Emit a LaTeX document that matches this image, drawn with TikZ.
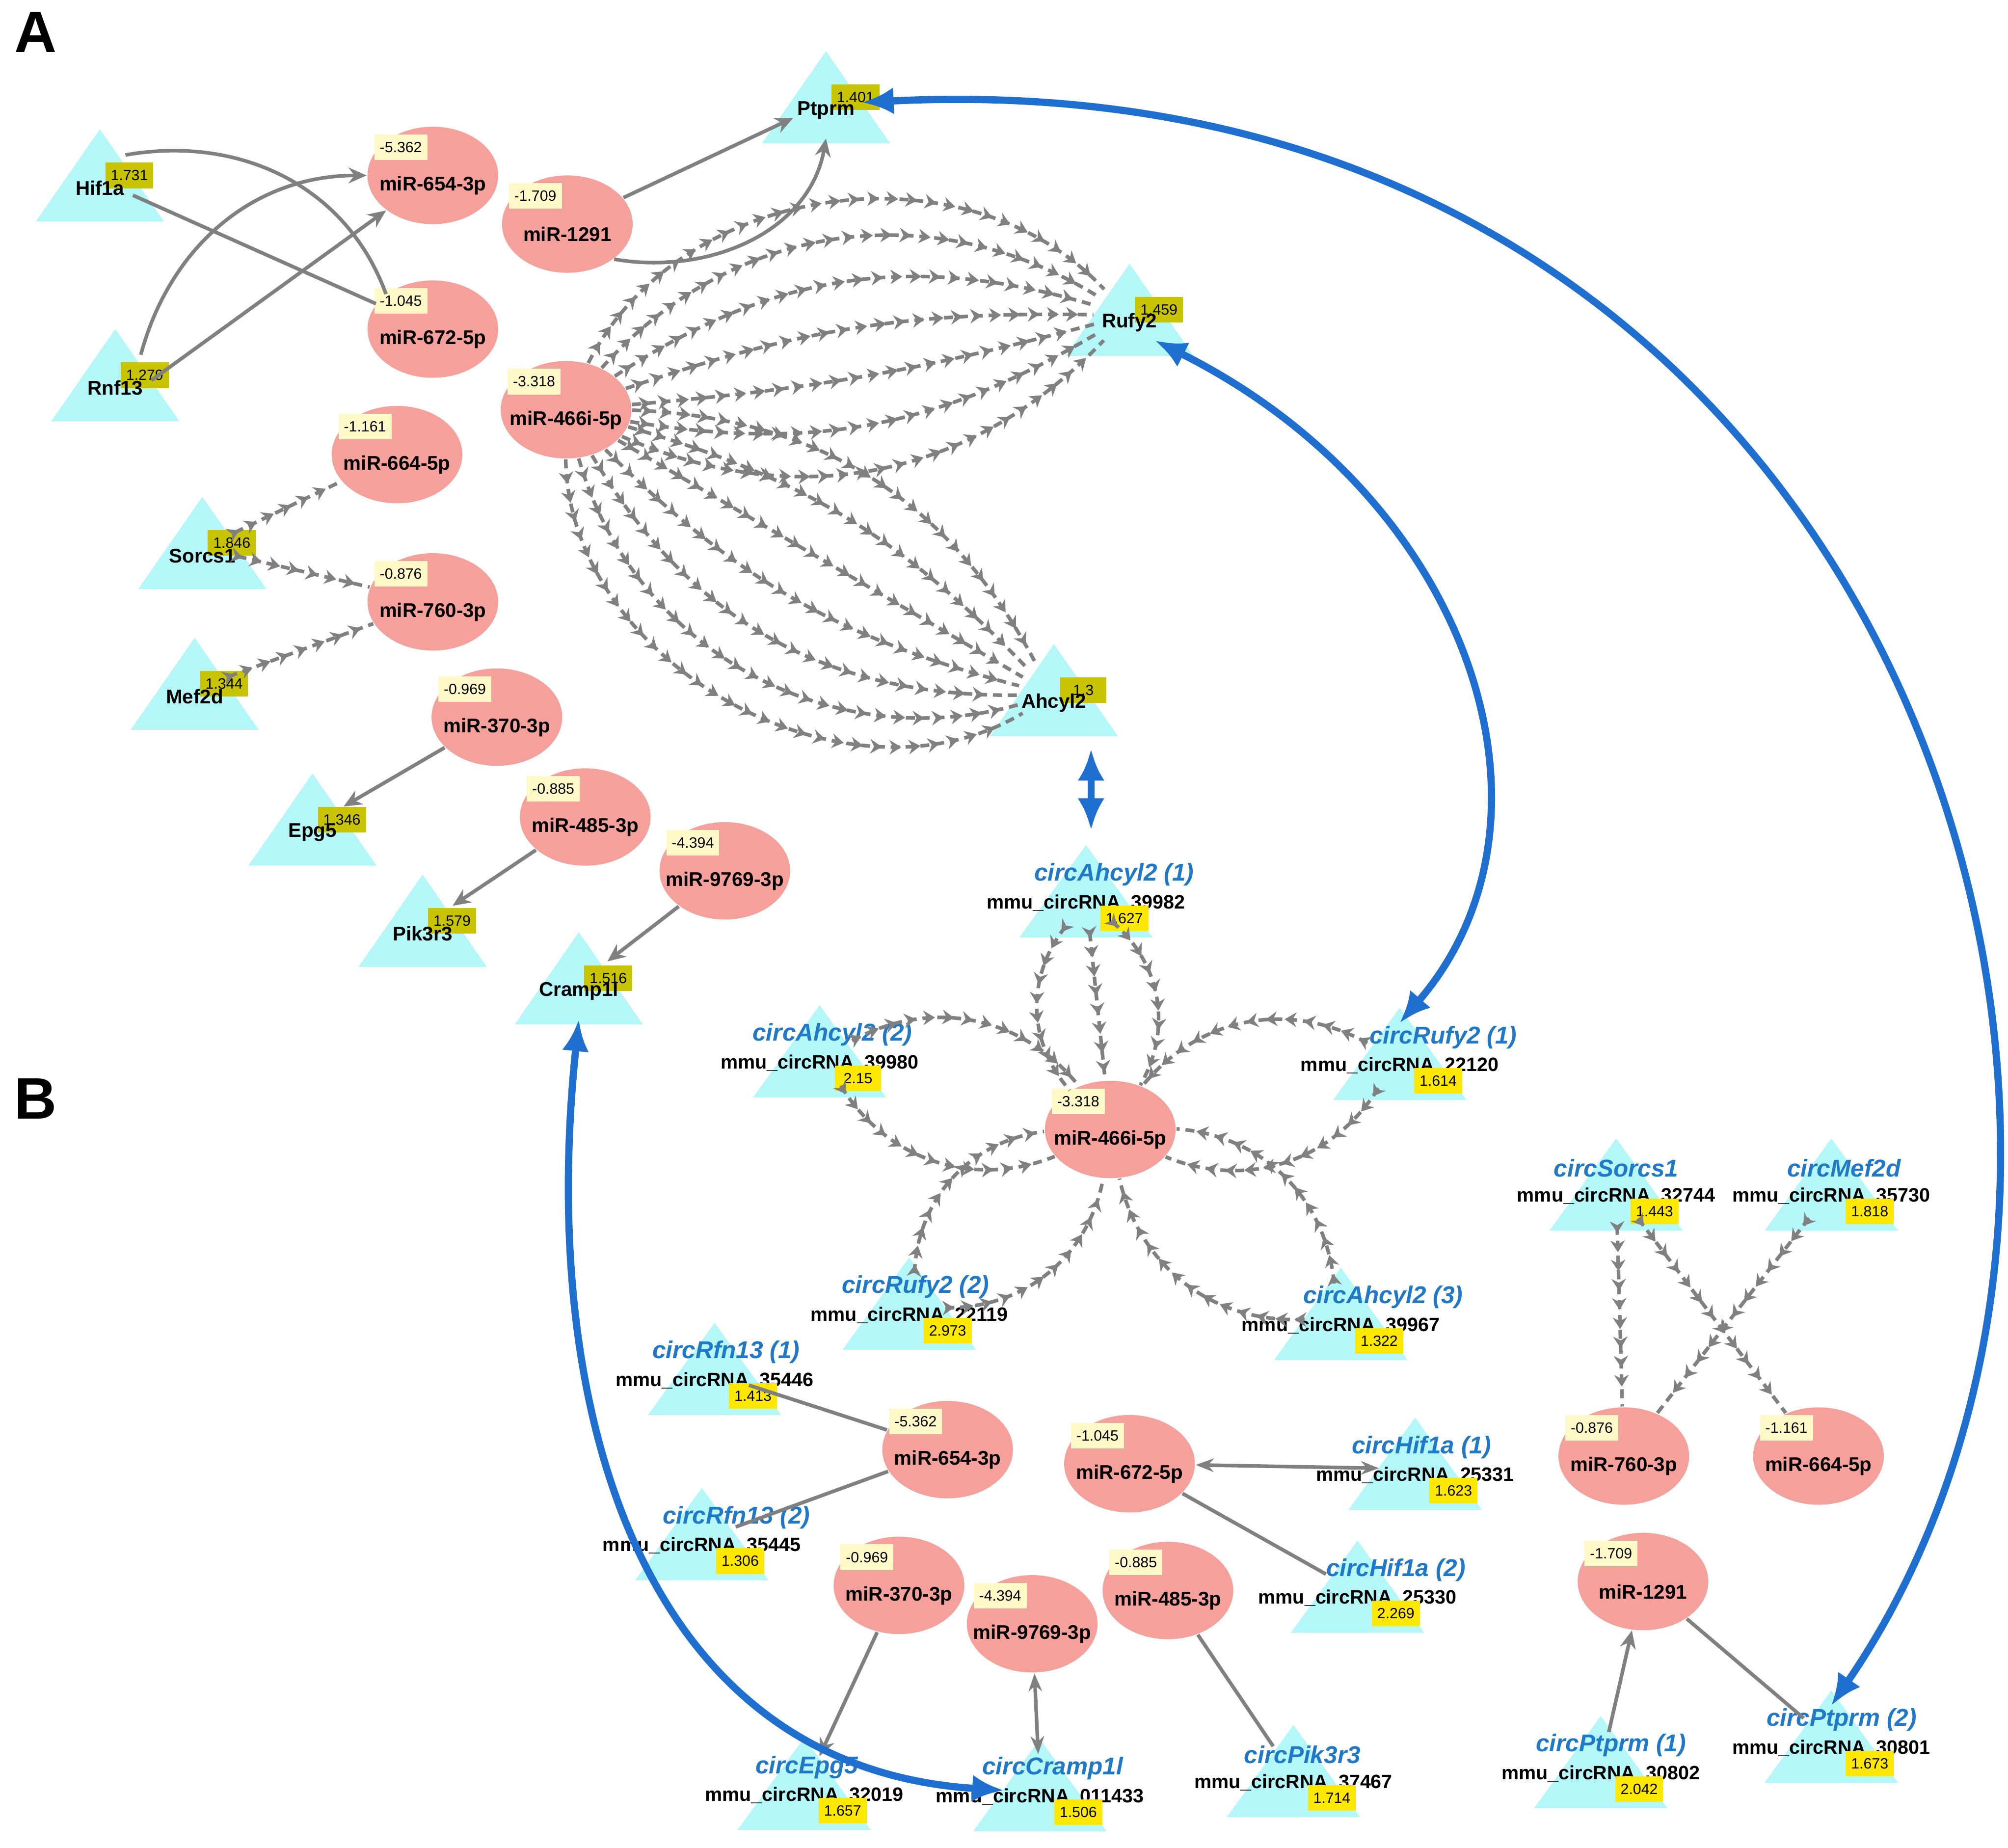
\documentclass[tikz,border=0pt]{standalone}
\usepackage{fontspec}
\setmainfont{Liberation Sans}
\usetikzlibrary{arrows.meta,decorations.markings,shapes.geometric,calc}
\definecolor{tcy}{HTML}{B3F7F9}
\definecolor{sal}{HTML}{F5A09B}
\definecolor{olv}{HTML}{C9C400}
\definecolor{ylw}{HTML}{FFE800}
\definecolor{lbx}{HTML}{FFF9C8}
\definecolor{bl}{HTML}{1E6FD0}
\definecolor{bn}{HTML}{1F78C8}
\tikzset{
 anc/.style={circle,minimum size=0.55cm,inner sep=0},
 ell/.style={ellipse,fill=sal,minimum width=1.02cm,minimum height=0.76cm,inner sep=0},
 nm/.style={font=\fontsize{4.4}{5}\selectfont\bfseries,inner sep=0},
 val/.style={font=\fontsize{3.3}{4}\selectfont,inner sep=1.2pt,minimum width=0.36cm,minimum height=0.2cm},
 cn/.style={font=\fontsize{5.4}{6}\selectfont\bfseries\itshape,text=bn,inner sep=0},
 cid/.style={font=\fontsize{4.3}{5}\selectfont\bfseries,inner sep=0},
 sol/.style={draw=gray,line width=0.8pt,-{Stealth[length=4pt,width=3.5pt]}},
 sl/.style={draw=gray,line width=0.8pt},
 dots/.style={draw=gray,line width=0.8pt,dashed,dash pattern=on 2pt off 1.3pt,postaction={decorate},
   decoration={markings,mark=between positions 0.04 and 0.97 step 0.15cm with {\arrow[gray]{Stealth[length=2.6pt,width=3.2pt]}}}},
 blue/.style={draw=bl,line width=1.6pt,{Latex[length=7pt,width=6pt]}-{Latex[length=7pt,width=6pt]}},
}
\newcommand{\triAn}[5]{%
 \fill[tcy] ({#2-50},{#3+32})--(#2,{#3-40})--({#2+50},{#3+32})--cycle;
 \node[anc] (#1) at (#2,#3) {};
 \node[val,fill=olv] at ({#2+23},{#3-4}) {#4};
 \node[nm] at (#2,{#3+6}) {#5};}
\newcommand{\ellN}[5]{%
 \node[ell] (#1) at (#2,#3) {};
 \node[val,fill=lbx] at ({#2-25},{#3-22}) {#4};
 \node[nm] at (#2,{#3+8}) {#5};}
\newcommand{\ctri}[7]{%
 \fill[tcy] ({#2-52},{#3+27})--(#2,{#3-45})--({#2+52},{#3+27})--cycle;
 \node[anc] (#1) at (#2,{#3-5}) {};
 \node[cn] at (#4,{#3-22}) {#7};
 \node[cid] at (#2,#3) {mmu\_circRNA\_#5};
 \node[val,fill=ylw] at ({#2+30},{#3+12}) {#6};}
\begin{document}
\begin{tikzpicture}[x=0.01cm,y=-0.01cm]
\useasboundingbox (0,0) rectangle (1568,1443);
\fill[white] (0,0) rectangle (1568,1443);
\node[font=\fontsize{13}{14}\selectfont\bfseries] (lA) at (28,25) {A};
\node[font=\fontsize{13}{14}\selectfont\bfseries] (lB) at (28,858) {B};
% ---------- A ----------
\triAn{hif}{78}{141}{1.731}{Hif1a}
\triAn{rnf}{90}{297}{1.279}{Rnf13}
\triAn{ptprm}{645}{80}{1.401}{Ptprm}
\triAn{rufy}{882}{246}{1.459}{Rufy2}
\triAn{sorcs}{158}{428}{1.846}{Sorcs1}
\triAn{mef}{152}{538}{1.344}{Mef2d}
\triAn{epg}{244}{644}{1.346}{Epg5}
\triAn{pik}{330}{723}{1.579}{Pik3r3}
\triAn{cramp}{452}{768}{1.516}{Cramp1l}
\triAn{ahcyl}{823}{543}{1.3}{Ahcyl2}
\ellN{e654}{338}{137}{-5.362}{miR-654-3p}
\ellN{e672}{338}{257}{-1.045}{miR-672-5p}
\ellN{e1291}{443}{175}{-1.709}{miR-1291}
\ellN{e466}{442}{320}{-3.318}{miR-466i-5p}
\ellN{e664}{310}{355}{-1.161}{miR-664-5p}
\ellN{e760}{338}{470}{-0.876}{miR-760-3p}
\ellN{e370}{388}{560}{-0.969}{miR-370-3p}
\ellN{e485}{457}{638}{-0.885}{miR-485-3p}
\ellN{e9769}{566}{680}{-4.394}{miR-9769-3p}
\draw[sl] (hif) -- (e672);
\draw[sl] (hif.north east) to[out=10,in=110] (e672.north west);
\draw[sol] (rnf.north east) to[out=75,in=180] (e654.west);
\draw[sol] (rnf.east) -- (e654.south west);
\draw[sol] (e1291) -- (ptprm);
\draw[sol] (e1291.south east) to[out=-10,in=-100] (ptprm.south);
\foreach \b in {-35,-20,-5,10,25,40,55} \draw[dots] (e466) to[bend left=\b] (rufy);
\foreach \b in {-30,-15,0,15,30,45,60} \draw[dots] (e466) to[bend right=\b] (ahcyl);
\draw[dots] (sorcs) -- (e664);
\draw[dots] (sorcs) -- (e760);
\draw[dots] (mef) -- (e760);
\draw[sol] (e370) -- (epg);
\draw[sol] (e485) -- (pik);
\draw[sol] (e9769) -- (cramp);
% ---------- B ----------
\ctri{cA1}{848}{705}{870}{39982}{1.627}{circAhcyl2 (1)}
\ctri{cA2}{640}{830}{650}{39980}{2.15}{circAhcyl2 (2)}
\ctri{cR1}{1093}{832}{1127}{22120}{1.614}{circRufy2 (1)}
\ctri{cR2}{710}{1027}{715}{22119}{2.973}{circRufy2 (2)}
\ctri{cA3}{1047}{1035}{1080}{39967}{1.322}{circAhcyl2 (3)}
\ctri{cS}{1262}{934}{1262}{32744}{1.443}{circSorcs1}
\ctri{cM}{1430}{934}{1440}{35730}{1.818}{circMef2d}
\ctri{cF1}{558}{1078}{567}{35446}{1.413}{circRfn13 (1)}
\ctri{cF2}{548}{1207}{575}{35445}{1.306}{circRfn13 (2)}
\ctri{cH1}{1105}{1152}{1110}{25331}{1.623}{circHif1a (1)}
\ctri{cH2}{1060}{1248}{1090}{25330}{2.269}{circHif1a (2)}
\ctri{cE}{628}{1402}{630}{32019}{1.657}{circEpg5}
\ctri{cC}{812}{1403}{822}{011433}{1.506}{circCramp1l}
\ctri{cP}{1010}{1392}{1017}{37467}{1.714}{circPik3r3}
\ctri{cP1}{1250}{1385}{1258}{30802}{2.042}{circPtprm (1)}
\ctri{cP2}{1430}{1365}{1438}{30801}{1.673}{circPtprm (2)}
\ellN{f466}{867}{882}{-3.318}{miR-466i-5p}
\ellN{f654}{740}{1132}{-5.362}{miR-654-3p}
\ellN{f672}{882}{1143}{-1.045}{miR-672-5p}
\ellN{f370}{702}{1238}{-0.969}{miR-370-3p}
\ellN{f9769}{806}{1268}{-4.394}{miR-9769-3p}
\ellN{f485}{912}{1242}{-0.885}{miR-485-3p}
\ellN{f760}{1268}{1137}{-0.876}{miR-760-3p}
\ellN{f664}{1420}{1137}{-1.161}{miR-664-5p}
\ellN{f1291}{1283}{1235}{-1.709}{miR-1291}
\draw[dots] (cA1) -- (f466);
\foreach \c in {cA1,cA2,cR1,cR2,cA3} {
  \draw[dots] (\c) to[bend left=40] (f466);
  \draw[dots] (\c) to[bend right=40] (f466);}
\draw[dots] (cS) -- (f760);
\draw[dots] (cS) -- (f664);
\draw[dots] (cM) -- (f760);
\draw[sl] (cF1) -- (f654);
\draw[sl] (cF2) -- (f654);
\draw[sl,{Stealth[length=4pt]}-{Stealth[length=4pt]}] (f672) -- (cH1);
\draw[sl] (f672) -- (cH2);
\draw[sol] (f370) -- (cE);
\draw[sl,{Stealth[length=4pt]}-{Stealth[length=4pt]}] (f9769) -- (cC);
\draw[sl] (f485) -- (cP);
\draw[sol] (cP1) -- (f1291);
\draw[sl] (f1291) -- (cP2);
% ---------- blue ----------
\draw[blue] ($(ahcyl)+(29,42)$) -- ($(cA1)+(4,-52)$);
\draw[blue] (ptprm.east) .. controls (1480,40) and (1740,880) .. (cP2.north);
\draw[blue] (rufy.south east) .. controls (1150,390) and (1230,640) .. (cR1.north);
\draw[blue] (cramp.south) .. controls (420,1100) and (500,1380) .. (cC.west);
\end{tikzpicture}
\end{document}
